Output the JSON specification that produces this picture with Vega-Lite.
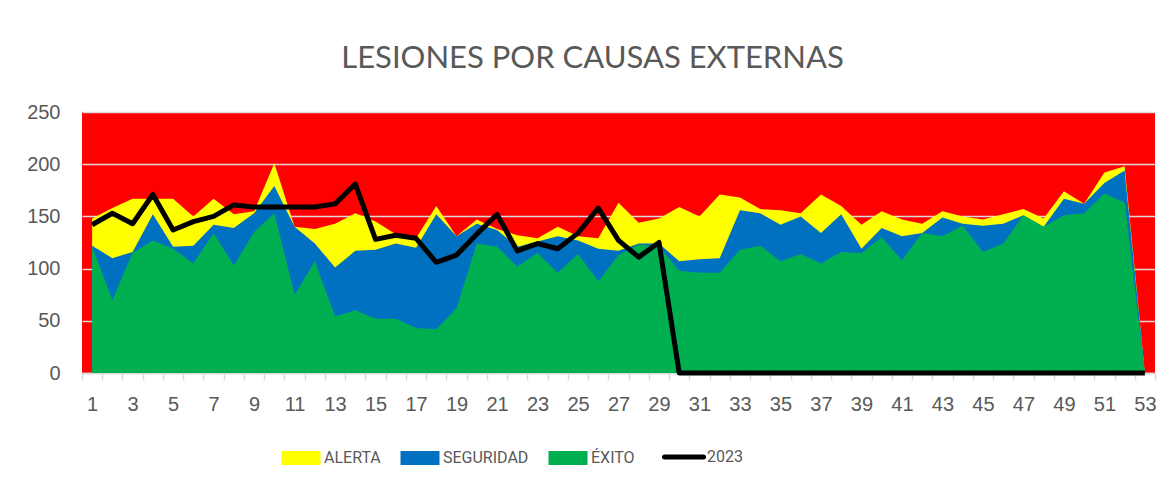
{
  "$schema": "https://vega.github.io/schema/vega-lite/v6.json",
  "autosize": "none",
  "width": 1073,
  "height": 261,
  "padding": {"left": 82, "top": 112, "right": 17, "bottom": 116},
  "background": "white",
  "view": {"fill": "#FF0000", "stroke": null},
  "title": {
    "text": "LESIONES POR CAUSAS EXTERNAS",
    "font": "Lato",
    "fontSize": 31,
    "fontWeight": "normal",
    "color": "#595959",
    "anchor": "middle",
    "dx": -26,
    "offset": 27
  },
  "data": {
    "values": [
      {"semana": 1, "alerta": 148, "seguridad": 122, "exito": 121, "y2023": 142},
      {"semana": 2, "alerta": 158, "seguridad": 110, "exito": 70, "y2023": 153},
      {"semana": 3, "alerta": 167, "seguridad": 116, "exito": 115, "y2023": 143},
      {"semana": 4, "alerta": 167, "seguridad": 152, "exito": 127, "y2023": 171},
      {"semana": 5, "alerta": 167, "seguridad": 121, "exito": 119, "y2023": 137},
      {"semana": 6, "alerta": 150, "seguridad": 122, "exito": 105, "y2023": 145},
      {"semana": 7, "alerta": 167, "seguridad": 142, "exito": 134, "y2023": 150},
      {"semana": 8, "alerta": 152, "seguridad": 139, "exito": 103, "y2023": 161},
      {"semana": 9, "alerta": 155, "seguridad": 153, "exito": 135, "y2023": 159},
      {"semana": 10, "alerta": 201, "seguridad": 179, "exito": 153, "y2023": 159},
      {"semana": 11, "alerta": 140, "seguridad": 140, "exito": 75, "y2023": 159},
      {"semana": 12, "alerta": 138, "seguridad": 124, "exito": 107, "y2023": 159},
      {"semana": 13, "alerta": 143, "seguridad": 101, "exito": 54, "y2023": 162},
      {"semana": 14, "alerta": 153, "seguridad": 117, "exito": 60, "y2023": 181},
      {"semana": 15, "alerta": 145, "seguridad": 118, "exito": 52, "y2023": 128},
      {"semana": 16, "alerta": 133, "seguridad": 124, "exito": 52, "y2023": 132},
      {"semana": 17, "alerta": 129, "seguridad": 120, "exito": 43, "y2023": 129},
      {"semana": 18, "alerta": 160, "seguridad": 152, "exito": 42, "y2023": 106},
      {"semana": 19, "alerta": 131, "seguridad": 131, "exito": 62, "y2023": 113},
      {"semana": 20, "alerta": 147, "seguridad": 143, "exito": 124, "y2023": 133},
      {"semana": 21, "alerta": 138, "seguridad": 137, "exito": 121, "y2023": 152},
      {"semana": 22, "alerta": 132, "seguridad": 121, "exito": 102, "y2023": 117},
      {"semana": 23, "alerta": 129, "seguridad": 126, "exito": 115, "y2023": 124},
      {"semana": 24, "alerta": 140, "seguridad": 131, "exito": 96, "y2023": 119},
      {"semana": 25, "alerta": 131, "seguridad": 127, "exito": 114, "y2023": 134},
      {"semana": 26, "alerta": 129, "seguridad": 119, "exito": 88, "y2023": 158},
      {"semana": 27, "alerta": 163, "seguridad": 117, "exito": 113, "y2023": 127},
      {"semana": 28, "alerta": 144, "seguridad": 124, "exito": 123, "y2023": 111},
      {"semana": 29, "alerta": 148, "seguridad": 124, "exito": 121, "y2023": 125},
      {"semana": 30, "alerta": 159, "seguridad": 107, "exito": 98, "y2023": 0},
      {"semana": 31, "alerta": 150, "seguridad": 109, "exito": 96, "y2023": 0},
      {"semana": 32, "alerta": 171, "seguridad": 110, "exito": 96, "y2023": 0},
      {"semana": 33, "alerta": 168, "seguridad": 156, "exito": 118, "y2023": 0},
      {"semana": 34, "alerta": 157, "seguridad": 153, "exito": 122, "y2023": 0},
      {"semana": 35, "alerta": 156, "seguridad": 142, "exito": 107, "y2023": 0},
      {"semana": 36, "alerta": 153, "seguridad": 150, "exito": 114, "y2023": 0},
      {"semana": 37, "alerta": 171, "seguridad": 134, "exito": 105, "y2023": 0},
      {"semana": 38, "alerta": 160, "seguridad": 152, "exito": 116, "y2023": 0},
      {"semana": 39, "alerta": 142, "seguridad": 119, "exito": 115, "y2023": 0},
      {"semana": 40, "alerta": 155, "seguridad": 139, "exito": 130, "y2023": 0},
      {"semana": 41, "alerta": 147, "seguridad": 131, "exito": 108, "y2023": 0},
      {"semana": 42, "alerta": 143, "seguridad": 134, "exito": 134, "y2023": 0},
      {"semana": 43, "alerta": 155, "seguridad": 149, "exito": 131, "y2023": 0},
      {"semana": 44, "alerta": 150, "seguridad": 143, "exito": 141, "y2023": 0},
      {"semana": 45, "alerta": 147, "seguridad": 141, "exito": 116, "y2023": 0},
      {"semana": 46, "alerta": 152, "seguridad": 143, "exito": 124, "y2023": 0},
      {"semana": 47, "alerta": 157, "seguridad": 151, "exito": 151, "y2023": 0},
      {"semana": 48, "alerta": 148, "seguridad": 140, "exito": 140, "y2023": 0},
      {"semana": 49, "alerta": 174, "seguridad": 167, "exito": 151, "y2023": 0},
      {"semana": 50, "alerta": 162, "seguridad": 162, "exito": 153, "y2023": 0},
      {"semana": 51, "alerta": 192, "seguridad": 182, "exito": 172, "y2023": 0},
      {"semana": 52, "alerta": 198, "seguridad": 194, "exito": 163, "y2023": 0},
      {"semana": 53, "alerta": 0, "seguridad": 0, "exito": 0, "y2023": 0}
    ]
  },
  "encoding": {
    "x": {
      "field": "semana",
      "type": "quantitative",
      "scale": {"domain": [0.5, 53.5], "nice": false, "zero": false},
      "axis": {
        "title": null,
        "grid": false,
        "values": [0.5,1,1.5,2,2.5,3,3.5,4,4.5,5,5.5,6,6.5,7,7.5,8,8.5,9,9.5,10,10.5,11,11.5,12,12.5,13,13.5,14,14.5,15,15.5,16,16.5,17,17.5,18,18.5,19,19.5,20,20.5,21,21.5,22,22.5,23,23.5,24,24.5,25,25.5,26,26.5,27,27.5,28,28.5,29,29.5,30,30.5,31,31.5,32,32.5,33,33.5,34,34.5,35,35.5,36,36.5,37,37.5,38,38.5,39,39.5,40,40.5,41,41.5,42,42.5,43,43.5,44,44.5,45,45.5,46,46.5,47,47.5,48,48.5,49,49.5,50,50.5,51,51.5,52,52.5,53,53.5],
        "labelExpr": "datum.value % 2 === 1 ? datum.value : ''",
        "labelOverlap": false,
        "labelFlush": false,
        "labelFont": "Liberation Sans",
        "labelFontSize": 20,
        "labelColor": "#595959",
        "labelPadding": 14,
        "domainColor": "#d9d9d9",
        "domainWidth": 1.5,
        "tickColor": "#d9d9d9",
        "tickWidth": 1.5,
        "tickSize": 7,
        "tickOpacity": {"condition": {"test": "datum.value % 1 !== 0", "value": 1}, "value": 0}
      }
    }
  },
  "layer": [
    {
      "mark": {"type": "area", "opacity": 1},
      "encoding": {
        "y": {
          "field": "alerta",
          "type": "quantitative",
          "stack": null,
          "scale": {"domain": [0, 250], "nice": false},
          "axis": {
            "title": null,
            "values": [0, 50, 100, 150, 200, 250],
            "grid": true,
            "gridColor": "#d9d9d9",
            "gridWidth": 1.5,
            "ticks": false,
            "domain": false,
            "labelFont": "Liberation Sans",
            "labelFontSize": 20,
            "labelColor": "#595959",
            "labelPadding": 22
          }
        },
        "color": {"datum": "ALERTA"}
      }
    },
    {
      "mark": {"type": "area", "opacity": 1},
      "encoding": {
        "y": {"field": "seguridad", "type": "quantitative", "stack": null},
        "color": {"datum": "SEGURIDAD"}
      }
    },
    {
      "mark": {"type": "area", "opacity": 1},
      "encoding": {
        "y": {"field": "exito", "type": "quantitative", "stack": null},
        "color": {"datum": "ÉXITO"}
      }
    },
    {
      "mark": {"type": "line", "strokeWidth": 5, "strokeJoin": "round"},
      "encoding": {
        "y": {"field": "y2023", "type": "quantitative"},
        "color": {
          "datum": "2023",
          "scale": {
            "domain": ["ALERTA", "SEGURIDAD", "ÉXITO", "2023"],
            "range": ["#FFFF00", "#0070C0", "#00B050", "#000000"]
          },
          "legend": {
            "title": null,
            "orient": "none",
            "direction": "horizontal",
            "legendX": 211,
            "legendY": 337,
            "labelFont": "Roboto",
            "labelFontSize": 16,
            "labelColor": "#595959",
            "labelOffset": 15,
            "columnPadding": 19,
            "symbolSize": 1521,
            "encode": {
              "symbols": {
                "update": {
                  "shape": {"signal": "datum.value === '2023' ? 'stroke' : 'M-1,-0.36H1V0.36H-1Z'"},
                  "fill": {"signal": "datum.value === 'ALERTA' ? '#FFFF00' : datum.value === 'SEGURIDAD' ? '#0070C0' : datum.value === '2023' ? 'transparent' : '#00B050'"},
                  "stroke": {"signal": "datum.value === '2023' ? '#000000' : 'transparent'"},
                  "strokeWidth": {"signal": "datum.value === '2023' ? 5 : 0"},
                  "strokeCap": {"value": "round"},
                  "opacity": {"value": 1}
                }
              }
            }
          }
        }
      }
    }
  ]
}
